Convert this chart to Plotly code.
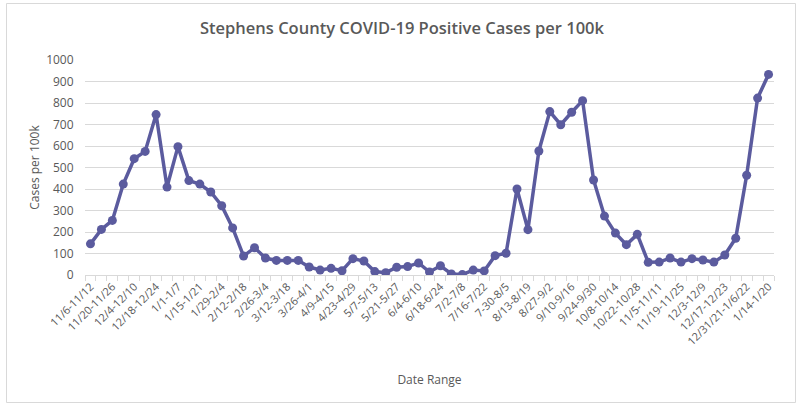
import plotly.graph_objects as go

date_ranges = [
    "11/6-11/12", "11/13-11/19", "11/20-11/26", "11/27-12/3", "12/4-12/10",
    "12/11-12/17", "12/18-12/24", "12/25-12/31", "1/1-1/7", "1/8-1/14",
    "1/15-1/21", "1/22-1/28", "1/29-2/4", "2/5-2/11", "2/12-2/18",
    "2/19-2/25", "2/26-3/4", "3/5-3/11", "3/12-3/18", "3/19-3/25",
    "3/26-4/1", "4/2-4/8", "4/9-4/15", "4/16-4/22", "4/23-4/29",
    "4/30-5/6", "5/7-5/13", "5/14-5/20", "5/21-5/27", "5/28-6/3",
    "6/4-6/10", "6/11-6/17", "6/18-6/24", "6/25-7/1", "7/2-7/8",
    "7/9-7/15", "7/16-7/22", "7/23-7/29", "7-30-8/5", "8/6-8/12",
    "8/13-8/19", "8/20-8/26", "8/27-9/2", "9/3-9/9", "9/10-9/16",
    "9/17-9/23", "9/24-9/30", "10/1-10/7", "10/8-10/14", "10/15-10/21",
    "10/22-10/28", "10/29-11/4", "11/5-11/11", "11/12-11/18", "11/19-11/25",
    "11/26-12/2", "12/3-12/9", "12/10-12/16", "12/17-12/23", "12/24-12/30",
    "12/31/21-1/6/22", "1/7-1/13", "1/14-1/20",
]

cases_per_100k = [
    145, 212, 254, 423, 541, 575, 746, 409, 597, 439,
    423, 386, 322, 219, 88, 127, 79, 68, 68, 68,
    37, 23, 31, 20, 76, 65, 16, 11, 36, 39,
    56, 14, 43, 5, 2, 23, 19, 90, 101, 400,
    211, 577, 760, 699, 757, 811, 442, 274, 195, 141,
    189, 59, 60, 79, 60, 76, 70, 60, 93, 171,
    464, 823, 933,
]

tick_labels = [d if i % 2 == 0 else "" for i, d in enumerate(date_ranges)]
y_ticks = list(range(0, 1001, 100))

line_color = "#5B5B9E"
text_gray = "#595959"
grid_gray = "#D9D9D9"
font_family = "Open Sans, Liberation Sans, sans-serif"

fig = go.Figure()
fig.add_trace(go.Scatter(
    x=date_ranges,
    y=cases_per_100k,
    mode="lines+markers",
    line=dict(color=line_color, width=3.5),
    marker=dict(color=line_color, size=9),
    showlegend=False,
    hoverinfo="x+y",
))

W, H = 801, 406
ml, mr, mt, mb = 85, 27, 60, 131
pw, ph = W - ml - mr, H - mt - mb

def px_to_paper_x(px):
    return (px - ml) / pw

def px_to_paper_y(py):
    return (H - mb - py) / ph

fig.add_shape(
    type="rect", xref="paper", yref="paper",
    x0=px_to_paper_x(6.5), x1=px_to_paper_x(795.5),
    y0=px_to_paper_y(402.5), y1=px_to_paper_y(3.5),
    line=dict(color=grid_gray, width=1), fillcolor="rgba(0,0,0,0)", layer="below",
)

fig.update_layout(
    width=W, height=H,
    margin=dict(l=ml, r=mr, t=mt, b=mb, pad=0),
    paper_bgcolor="white", plot_bgcolor="white",
    font=dict(family=font_family, color=text_gray),
    title=dict(
        text="Stephens County COVID-19 Positive Cases per 100k",
        x=402 / W, xref="container", xanchor="center",
        y=1 - 28 / H, yref="container", yanchor="middle",
        font=dict(size=16.5, color=text_gray, family=font_family, weight=600),
    ),
    xaxis=dict(
        type="category",
        range=[-0.5, len(date_ranges) - 0.5],
        tickmode="array",
        tickvals=date_ranges,
        ticktext=tick_labels,
        tickangle=-45,
        tickson="boundaries",
        ticks="outside", ticklen=5, tickcolor=grid_gray,
        showline=True, linecolor=grid_gray, linewidth=1,
        showgrid=False, zeroline=False,
        tickfont=dict(size=11, color=text_gray),
        title=dict(text="Date Range", font=dict(size=12, color=text_gray), standoff=28),
    ),
    yaxis=dict(
        range=[0, 1000],
        tickmode="array",
        tickvals=y_ticks,
        showgrid=True, gridcolor=grid_gray, gridwidth=1,
        zeroline=False, showline=False,
        ticks="outside", ticklen=8, tickcolor="rgba(0,0,0,0)",
        tickfont=dict(size=12, color=text_gray),
        title=dict(text="Cases per 100k", font=dict(size=12, color=text_gray), standoff=3),
    ),
)

fig.write_html(
    "out.html",
    config={"displayModeBar": False},
    post_script="document.body.style.margin='0';",
)
